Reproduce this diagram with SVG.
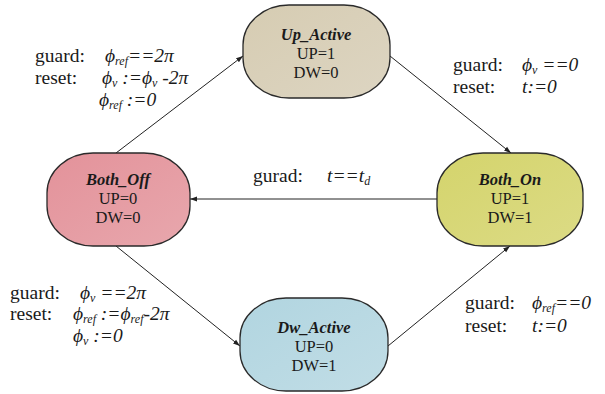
<svg xmlns="http://www.w3.org/2000/svg" width="605" height="394" viewBox="0 0 605 394">
<defs>
<linearGradient id="gUp" x1="0" y1="0" x2="1" y2="1"><stop offset="0" stop-color="#d6ccb2"/><stop offset="1" stop-color="#ddd5c2"/></linearGradient>
<linearGradient id="gOff" x1="0" y1="0" x2="1" y2="1"><stop offset="0" stop-color="#e3929a"/><stop offset="1" stop-color="#e8a7ad"/></linearGradient>
<linearGradient id="gOn" x1="0" y1="0" x2="1" y2="1"><stop offset="0" stop-color="#d4d46c"/><stop offset="1" stop-color="#dcdb85"/></linearGradient>
<linearGradient id="gDw" x1="0" y1="0" x2="1" y2="1"><stop offset="0" stop-color="#b1d5e0"/><stop offset="1" stop-color="#c1dde6"/></linearGradient>
<marker id="arr" viewBox="0 0 10 10" refX="10" refY="5" markerWidth="7" markerHeight="7" orient="auto" markerUnits="userSpaceOnUse">
<path d="M0,1.5 L10,5 L0,8.5 z" fill="#222"/>
</marker>
<style>
.node{stroke:#2a2a2a;stroke-width:1.3}
.t{font-family:"Liberation Serif","Times New Roman",serif;font-size:16.5px;fill:#1a1a1a;text-anchor:middle}
.h{font-weight:bold;font-style:italic}
.lb{font-family:"Liberation Serif","Times New Roman",serif;font-size:19.5px;fill:#1a1a1a}
.m{font-style:italic}
.sub{font-size:12px}
.edge{stroke:#222;stroke-width:1;fill:none;marker-end:url(#arr)}
</style>
</defs>
<rect width="605" height="394" fill="#fff"/>
<g id="connectors">
<line class="edge" x1="116" y1="153" x2="243" y2="56"/>
<line class="edge" x1="390" y1="56" x2="511" y2="153"/>
<line class="edge" x1="437" y1="199" x2="190" y2="199"/>
<line class="edge" x1="116" y1="246" x2="240" y2="346"/>
<line class="edge" x1="388" y1="346" x2="510" y2="246"/>
</g>
<g id="up_active">
<rect class="node" x="243" y="5" width="147" height="93" rx="46" ry="40" fill="url(#gUp)"/>
<text class="t h" x="316" y="40">Up_Active</text>
<text class="t" x="316" y="59">UP=1</text>
<text class="t" x="316" y="78">DW=0</text>
</g>
<g id="both_off">
<rect class="node" x="47" y="153" width="143" height="93" rx="46" ry="40" fill="url(#gOff)"/>
<text class="t h" x="118" y="185">Both_Off</text>
<text class="t" x="118" y="204">UP=0</text>
<text class="t" x="118" y="223">DW=0</text>
</g>
<g id="both_on">
<rect class="node" x="437" y="153" width="146" height="93" rx="46" ry="40" fill="url(#gOn)"/>
<text class="t h" x="510" y="185">Both_On</text>
<text class="t" x="510" y="204">UP=1</text>
<text class="t" x="510" y="223">DW=1</text>
</g>
<g id="dw_active">
<rect class="node" x="240" y="298" width="148" height="93" rx="46" ry="40" fill="url(#gDw)"/>
<text class="t h" x="314" y="333">Dw_Active</text>
<text class="t" x="314" y="352">UP=0</text>
<text class="t" x="314" y="371">DW=1</text>
</g>
<g id="labels">
<text class="lb" x="35" y="62">guard:</text>
<text class="lb m" x="105" y="62">ϕ<tspan class="sub" dy="3">ref</tspan><tspan dy="-3">==2π</tspan></text>
<text class="lb" x="35" y="84">reset:</text>
<text class="lb m" x="102" y="84">ϕ<tspan class="sub" dy="3">v</tspan><tspan dy="-3"> :=ϕ</tspan><tspan class="sub" dy="3">v</tspan><tspan dy="-3"> -2π</tspan></text>
<text class="lb m" x="99" y="106">ϕ<tspan class="sub" dy="3">ref</tspan><tspan dy="-3"> :=0</tspan></text>

<text class="lb" x="453" y="71">guard:</text>
<text class="lb m" x="522" y="71">ϕ<tspan class="sub" dy="3">v</tspan><tspan dy="-3"> ==0</tspan></text>
<text class="lb" x="453" y="93">reset:</text>
<text class="lb m" x="522" y="93">t:=0</text>

<text class="lb" x="253" y="182">gurad:</text>
<text class="lb m" x="327" y="182">t==t<tspan class="sub" dy="3">d</tspan></text>

<text class="lb" x="10" y="299">guard:</text>
<text class="lb m" x="80" y="299">ϕ<tspan class="sub" dy="3">v</tspan><tspan dy="-3"> ==2π</tspan></text>
<text class="lb" x="10" y="320">reset:</text>
<text class="lb m" x="73" y="320">ϕ<tspan class="sub" dy="3">ref</tspan><tspan dy="-3"> :=ϕ</tspan><tspan class="sub" dy="3">ref</tspan><tspan dy="-3">-2π</tspan></text>
<text class="lb m" x="73" y="342">ϕ<tspan class="sub" dy="3">v</tspan><tspan dy="-3"> :=0</tspan></text>

<text class="lb" x="465" y="309">guard:</text>
<text class="lb m" x="532" y="309">ϕ<tspan class="sub" dy="3">ref</tspan><tspan dy="-3">==0</tspan></text>
<text class="lb" x="465" y="332">reset:</text>
<text class="lb m" x="532" y="332">t:=0</text>
</g>
</svg>
